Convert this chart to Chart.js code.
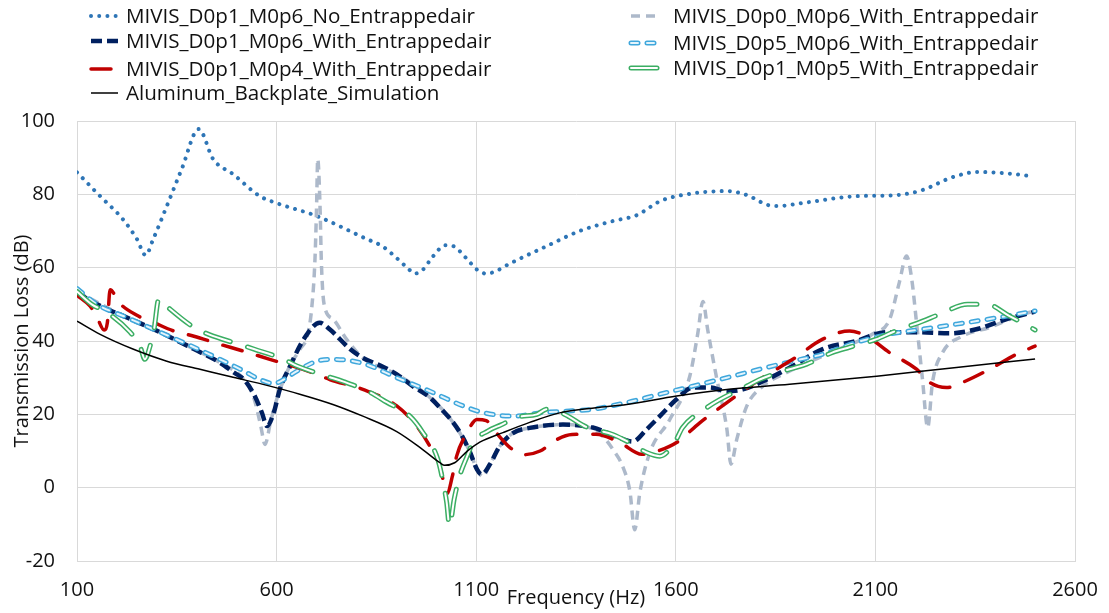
<!DOCTYPE html>
<html>
<head>
<meta charset="utf-8">
<title>Transmission Loss</title>
<script src="https://cdn.jsdelivr.net/npm/chart.js@4.4.1/dist/chart.umd.min.js"></script>
<style>
  html, body { margin: 0; padding: 0; background: #fff; }
</style>
</head>
<body>
<canvas id="tlChart" width="1109" height="613"></canvas>
<script>
// axis ticks
const freqTicks = [100, 600, 1100, 1600, 2100, 2600];
const tlTicks = [-20, 0, 20, 40, 60, 80, 100];

// MIVIS_D0p1_M0p6_No_Entrappedair
const freqNoAir = [100, 158, 215, 250, 272, 291, 325, 362, 405, 441, 491, 558, 600, 700, 826, 864, 896, 929, 946, 964, 992, 1022, 1042, 1074, 1104, 1124, 1144, 1184, 1277, 1359, 1442, 1502, 1560, 1602, 1728, 1778, 1830, 1853, 1928, 2053, 2153, 2216, 2294, 2356, 2419, 2490];
const tlNoAir = [86, 79.5, 73.2, 67.8, 63.4, 67.8, 76.8, 86.8, 97.8, 89.6, 85.5, 79.5, 77.6, 74.1, 67.8, 65.9, 63.1, 59.8, 58.4, 59.2, 63.1, 66.1, 65.9, 62.7, 59.3, 58.4, 58.8, 61.1, 65.9, 70, 72.7, 74.3, 78.1, 79.5, 80.9, 79.8, 77.1, 76.8, 77.8, 79.5, 79.8, 81.1, 84.7, 86.1, 85.8, 85];

// MIVIS_D0p0_M0p6_With_Entrappedair
const freqD0p0 = [100, 225, 308, 393, 458, 518, 543, 560, 571, 585, 600, 630, 660, 676, 688, 696, 700, 703, 709, 712, 719, 741, 775, 816, 901, 984, 1042, 1084, 1102, 1117, 1134, 1159, 1192, 1234, 1317, 1380, 1417, 1445, 1467, 1485, 1497, 1510, 1535, 1585, 1635, 1655, 1668, 1680, 1703, 1728, 1738, 1753, 1778, 1818, 1878, 1968, 2035, 2093, 2136, 2160, 2178, 2191, 2203, 2218, 2231, 2243, 2268, 2318, 2386, 2469, 2500];
const tlD0p0 = [53.5, 46.4, 42.4, 37.8, 34.1, 29.5, 24.5, 17, 11.8, 18, 24, 32.5, 38, 41, 49, 62, 76, 89.6, 76, 62, 50, 46, 40.5, 35.4, 30.9, 24.6, 17.8, 9.8, 5, 3, 6.3, 11.3, 14.9, 16.3, 17.2, 16.5, 14, 10, 5.8, -1, -11.5, -1.3, 9.6, 18.6, 30.4, 42, 50.8, 43, 29.5, 15.9, 6.4, 13.3, 22.3, 27.7, 31.4, 35.9, 39, 41.9, 46, 56, 63.2, 56.9, 45, 29.5, 16.4, 28.7, 36.8, 41.3, 43.7, 47.3, 48.2];

// MIVIS_D0p1_M0p6_With_Entrappedair
const freqD0p1M6 = [100, 150, 225, 308, 393, 458, 493, 518, 543, 563, 576, 593, 608, 634, 668, 708, 733, 784, 816, 866, 901, 941, 984, 1017, 1042, 1064, 1084, 1102, 1114, 1134, 1159, 1192, 1234, 1317, 1392, 1450, 1492, 1527, 1560, 1602, 1643, 1685, 1728, 1768, 1828, 1893, 1968, 2052, 2128, 2203, 2286, 2353, 2429, 2500];
const tlD0p1M6 = [53.2, 50, 46.4, 42.4, 37.8, 34.1, 31.4, 29.5, 25.5, 20.5, 16.8, 20.5, 26.8, 33.2, 40.5, 45, 43.2, 37.8, 35.4, 33, 30.9, 27.7, 24.6, 20.9, 17.8, 14.2, 9.8, 5, 3.6, 6.3, 11.3, 14.9, 16.3, 17.2, 16.4, 14, 12.6, 15.9, 19.5, 24.1, 27.3, 27.3, 26.3, 26.8, 29.5, 33.2, 37.8, 40, 42.4, 42.4, 42.1, 43.2, 46, 48];

// MIVIS_D0p5_M0p6_With_Entrappedair
const freqD0p5 = [100, 150, 225, 308, 393, 458, 518, 558, 593, 618, 651, 701, 741, 816, 901, 984, 1067, 1117, 1192, 1267, 1334, 1392, 1477, 1560, 1643, 1728, 1810, 1893, 1968, 2052, 2136, 2218, 2303, 2386, 2500];
const tlD0p5 = [54.3, 50, 46.4, 42.4, 38.3, 35, 31.8, 29.5, 28.4, 29.5, 31.8, 34.5, 35, 33.9, 30, 26.3, 22.3, 20.5, 19.5, 20.5, 20.9, 21.4, 23.2, 25.5, 27.7, 30, 32.3, 34.5, 36.4, 39.6, 41.9, 43.2, 44.6, 46, 48.2];

// MIVIS_D0p1_M0p4_With_Entrappedair
const freqD0p1M4 = [100, 133, 150, 168, 176, 183, 205, 250, 293, 343, 393, 458, 518, 583, 651, 701, 733, 816, 901, 951, 984, 1009, 1021, 1028, 1040, 1051, 1077, 1102, 1125, 1150, 1184, 1220, 1260, 1300, 1340, 1400, 1460, 1515, 1552, 1602, 1660, 1728, 1810, 1893, 1968, 2035, 2078, 2136, 2203, 2236, 2278, 2318, 2386, 2454, 2500];
const tlD0p1M4 = [52.5, 49.5, 46.5, 43, 45, 54, 50.5, 47, 45, 42.7, 41.3, 39.1, 37.2, 35, 32.8, 30.9, 29.5, 26.8, 22.3, 16.8, 11.3, 5.8, 0.4, -1.5, 3, 8.6, 15, 18.6, 18.3, 15, 11, 9, 10, 13, 14.5, 14.6, 12.3, 9.1, 9.9, 12.3, 17.7, 23.2, 29.5, 35, 40.5, 42.7, 41.3, 36.8, 32.3, 28.7, 27.3, 28.7, 32.3, 36.4, 38.6];

// MIVIS_D0p1_M0p5_With_Entrappedair
const freqD0p1M5 = [100, 137, 175, 233, 258, 270, 283, 293, 305, 333, 393, 430, 506, 543, 618, 651, 726, 766, 834, 876, 934, 966, 1004, 1018, 1026, 1033, 1045, 1058, 1077, 1092, 1130, 1164, 1202, 1252, 1277, 1300, 1330, 1377, 1442, 1492, 1527, 1560, 1597, 1617, 1672, 1710, 1778, 1810, 1885, 1928, 1993, 2035, 2103, 2143, 2218, 2261, 2331, 2379, 2436, 2479, 2500];
const tlD0p1M5 = [53.5, 50, 47.8, 42.4, 38.6, 35, 38.6, 43.2, 51.5, 48.7, 43.7, 41.8, 39.1, 37.8, 35, 33.2, 30.4, 29, 26, 23.3, 19.5, 15.1, 7.7, 1, -4, -10.4, -3, 3, 8.5, 12.3, 15.5, 17.2, 19.2, 20, 21.4, 21, 19.5, 16.5, 14.5, 11.8, 9.6, 8.6, 12.3, 16.4, 21.4, 24, 27.7, 29.5, 32.3, 33.7, 36.9, 38.3, 40.5, 42.4, 45.4, 47.3, 50, 50, 46.8, 44.3, 43];

// Aluminum_Backplate_Simulation
const freqAlu = [100, 158, 240, 325, 408, 491, 576, 658, 741, 816, 901, 966, 1009, 1021, 1046, 1077, 1109, 1167, 1234, 1309, 1400, 1477, 1602, 1728, 1885, 2103, 2303, 2500];
const tlAlu = [45.4, 41.8, 37.8, 34.5, 32.3, 30.1, 27.9, 25.5, 22.7, 19.5, 15.3, 10.4, 6.8, 6.1, 6.8, 9.9, 12.4, 15, 17.8, 20.4, 21.8, 22.7, 25, 26.8, 28.2, 30.4, 32.8, 35.1];

function pairs(xs, ys) {
  return xs.map((x, i) => ({ x: x, y: ys[i] }));
}

const FONT = "'Open Sans', Lato, sans-serif";
const TEXT = "#111111";
const GRID = "#D9D9D9";

// line styles, in Excel series order (later = on top)
const series = [
  { label: "MIVIS_D0p1_M0p6_No_Entrappedair", freq: freqNoAir, tl: tlNoAir, color: "#2E75B6", width: 4, dash: [0.01, 8.2], cap: "round", col: 0, row: 0 },
  { label: "MIVIS_D0p0_M0p6_With_Entrappedair", freq: freqD0p0, tl: tlD0p0, color: "#ADB9CA", width: 3.5, dash: [9, 6], cap: "butt", col: 1, row: 0 },
  { label: "MIVIS_D0p1_M0p6_With_Entrappedair", freq: freqD0p1M6, tl: tlD0p1M6, color: "#002060", width: 4.5, dash: [11, 5], cap: "butt", col: 0, row: 1 },
  { label: "MIVIS_D0p5_M0p6_With_Entrappedair", freq: freqD0p5, tl: tlD0p5, color: "#3FA7DC", width: 5, dash: [7, 9], cap: "round", inner: "#E4F4FC", col: 1, row: 1 },
  { label: "MIVIS_D0p1_M0p4_With_Entrappedair", freq: freqD0p1M4, tl: tlD0p1M4, color: "#C00000", width: 3.5, dash: [20, 16], cap: "round", col: 0, row: 2 },
  { label: "MIVIS_D0p1_M0p5_With_Entrappedair", freq: freqD0p1M5, tl: tlD0p1M5, color: "#3BAE63", width: 5, dash: [26, 18], cap: "round", inner: "#FFFFFF", col: 1, row: 2 },
  { label: "Aluminum_Backplate_Simulation", freq: freqAlu, tl: tlAlu, color: "#000000", width: 1.5, dash: [], cap: "butt", col: 0, row: 3 }
];

const datasets = [];
series.forEach((s, i) => {
  const order = 100 - i * 10;
  datasets.push({
    label: s.label,
    data: pairs(s.freq, s.tl),
    borderColor: s.color,
    borderWidth: s.width,
    borderDash: s.dash,
    borderCapStyle: s.cap,
    fill: false,
    order: order
  });
  if (s.inner) {
    // lighter core drawn over the same path gives the hollow look
    datasets.push({
      label: "",
      data: pairs(s.freq, s.tl),
      borderColor: s.inner,
      borderWidth: 2,
      borderDash: s.dash,
      borderCapStyle: s.cap,
      fill: false,
      order: order - 1
    });
  }
});

// legend in two columns like the Excel original
const legendCols = [
  { lineX: 91, lineW: 27, textX: 126, rows: [16, 41, 69, 93] },
  { lineX: 631, lineW: 29, textX: 673, rows: [16, 43, 68] }
];

const columnLegend = {
  id: "columnLegend",
  afterDraw(chart) {
    const ctx = chart.ctx;
    series.forEach(s => {
      const col = legendCols[s.col];
      const y = col.rows[s.row];
      const strokes = [{ color: s.color, width: s.width }];
      if (s.inner) strokes.push({ color: s.inner, width: 2 });
      strokes.forEach(st => {
        ctx.save();
        ctx.beginPath();
        ctx.moveTo(col.lineX, y);
        ctx.lineTo(col.lineX + col.lineW, y);
        ctx.strokeStyle = st.color;
        ctx.lineWidth = st.width;
        ctx.lineCap = s.cap;
        ctx.setLineDash(s.dash);
        ctx.stroke();
        ctx.restore();
      });
      ctx.save();
      ctx.font = "20.6px " + FONT;
      ctx.fillStyle = TEXT;
      ctx.textBaseline = "middle";
      ctx.textAlign = "left";
      ctx.fillText(s.label, col.textX, y + 1);
      ctx.restore();
    });
  }
};

const tickFont = { family: FONT, size: 20 };

new Chart(document.getElementById("tlChart"), {
  type: "line",
  data: { datasets: datasets },
  options: {
    responsive: false,
    animation: false,
    events: [],
    layout: { padding: { top: 121, right: 34, bottom: 0, left: 0 } },
    elements: {
      point: { radius: 0 },
      line: { cubicInterpolationMode: "monotone" }
    },
    plugins: {
      legend: { display: false },
      tooltip: { enabled: false }
    },
    scales: {
      x: {
        type: "linear",
        min: freqTicks[0],
        max: freqTicks[freqTicks.length - 1],
        afterBuildTicks: scale => { scale.ticks = freqTicks.map(v => ({ value: v })); },
        ticks: { padding: 17, color: TEXT, font: tickFont, callback: v => String(v) },
        grid: { color: GRID, drawTicks: false },
        border: { color: GRID },
        title: { display: true, text: "Frequency (Hz)", color: TEXT, font: tickFont, padding: { top: 0, bottom: 3 } },
        afterFit: scale => {
          scale.height = 52;
          scale.paddingLeft = 0;
          scale.paddingRight = 0;
        }
      },
      y: {
        min: tlTicks[0],
        max: tlTicks[tlTicks.length - 1],
        afterBuildTicks: scale => { scale.ticks = tlTicks.map(v => ({ value: v })); },
        ticks: { padding: 22, color: TEXT, font: tickFont, callback: v => String(v) },
        grid: { color: GRID, drawTicks: false },
        border: { color: GRID },
        title: { display: true, text: "Transmission Loss (dB)", color: TEXT, font: tickFont, padding: { top: 10, bottom: 0 } },
        afterFit: scale => { scale.width = 77; }
      }
    }
  },
  plugins: [columnLegend]
});
</script>
</body>
</html>
